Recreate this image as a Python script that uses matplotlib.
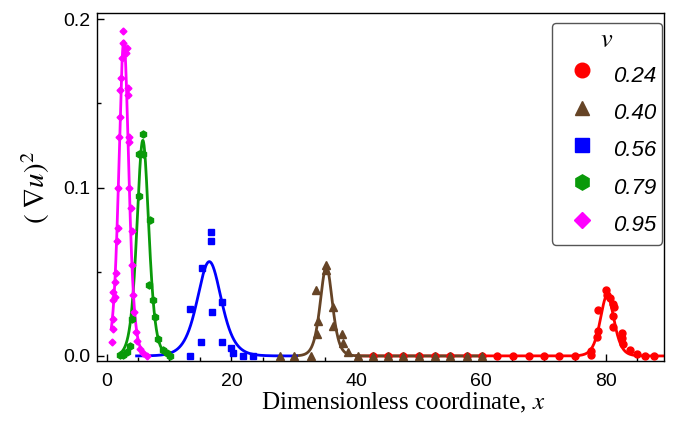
import numpy as np
import matplotlib
matplotlib.use("Agg")
import matplotlib.pyplot as plt
from matplotlib.lines import Line2D

plt.rcParams['font.family'] = ['Liberation Sans', 'DejaVu Sans']
plt.rcParams['mathtext.fontset'] = 'stix'

#####################################
##          DATA                   ##
#####################################
speeds = ['0.24', '0.40', '0.56', '0.79', '0.95']

# v = 0.24
x_024 = [42.6, 45.1, 47.5, 50.1, 52.6, 55.0, 57.7, 60.1, 62.5, 65.1, 67.6, 70.0, 72.5, 75.0,
         77.6, 77.6, 78.6, 78.75, 78.8, 80.0, 80.1, 80.6, 81.2, 81.25, 81.2, 81.2,
         82.6, 82.6, 82.7, 83.8, 85.0, 86.3, 87.7]
y_024 = [0.0, 0.0, 0.0, 0.0, 0.0, 0.0, 0.0, 0.0, 0.0, 0.0, 0.0, 0.0, 0.0, 0.0,
         0.0030, 0.0008, 0.011, 0.015, 0.027, 0.039, 0.036, 0.0345, 0.031, 0.029, 0.024, 0.0174,
         0.0138, 0.0105, 0.007, 0.0035, 0.001, 0.0, 0.0]

# v = 0.40
x_040 = [27.7, 30.0, 32.8, 33.6, 33.85, 33.7, 35.1, 35.15, 36.2, 36.25, 37.7, 37.9, 38.7,
         40.2, 42.6, 45.1, 47.5, 50.1, 52.6, 55.0, 57.7, 60.1]
y_040 = [0.0, 0.0, 0.0, 0.039, 0.021, 0.013, 0.054, 0.051, 0.029, 0.018, 0.013, 0.0075, 0.0025,
         0.0, 0.0, 0.0, 0.0, 0.0, 0.0, 0.0, 0.0, 0.0]

# v = 0.56
x_056 = [13.4, 13.4, 15.1, 15.2, 16.8, 16.8, 16.9, 18.45, 18.55, 20.0, 20.2, 21.8, 23.5]
y_056 = [0.0, 0.028, 0.0085, 0.052, 0.0737, 0.068, 0.026, 0.032, 0.008, 0.0046, 0.0015, 0.0, 0.0]

# v = 0.79
x_079 = [2.2, 2.7, 3.3, 3.8, 4.0, 5.2, 5.25, 5.75, 5.9, 6.9, 6.85, 7.45, 7.75, 8.3, 9.1, 9.6, 10.1]
y_079 = [0.0008, 0.0008, 0.0025, 0.006, 0.022, 0.095, 0.120, 0.120, 0.132, 0.081, 0.042, 0.033,
         0.023, 0.010, 0.0035, 0.002, 0.0]

# v = 0.95
x_095 = [0.80, 0.96, 0.96, 1.06, 1.33, 1.06, 1.33, 1.49, 1.60, 1.86, 1.90, 1.97, 2.13, 2.13,
         2.24, 2.40, 2.56, 2.56, 3.10, 3.20, 3.37, 3.40, 3.63, 3.65, 3.60, 3.85, 4.00, 4.10,
         4.27, 4.43, 4.70, 4.90, 5.34, 5.87, 6.40]
y_095 = [0.008, 0.016, 0.022, 0.033, 0.035, 0.038, 0.044, 0.049, 0.068, 0.076, 0.100, 0.130,
         0.142, 0.158, 0.165, 0.177, 0.186, 0.193, 0.180, 0.183, 0.159, 0.155, 0.130, 0.127,
         0.100, 0.088, 0.074, 0.054, 0.036, 0.026, 0.014, 0.009, 0.004, 0.002, 0.0]

# sech^2 fits: amplitude, centre, width, and x-range of the drawn curve
fit_amp = [0.036, 0.053, 0.056, 0.128, 0.187]
fit_c = [80.2, 35.2, 16.45, 5.8, 2.75]
fit_w = [1.47, 1.3, 2.58, 1.27, 1.06]
fit_lo = [40.0, 30.4, 4.8, 2.3, 0.75]
fit_hi = [90.0, 60.0, 30.4, 10.2, 6.8]

colors = ['#ff0000', '#664426', '#0000ff', '#0a9a0a', '#ff00ff']
markers = ['o', '^', 's', 'h', 'D']
msizes = [5, 5.5, 5, 5, 3.5]
leg_sizes = [10.5, 10.5, 10, 11, 8]

xs_all = [x_024, x_040, x_056, x_079, x_095]
ys_all = [y_024, y_040, y_056, y_079, y_095]

#####################################
##            Plot                 ##
#####################################
fig = plt.figure(figsize=(6.8, 4.29), dpi=100)
ax = fig.add_axes([0.1426, 0.1585, 0.8338, 0.8112])

for i in range(5):
    xf = np.linspace(fit_lo[i], fit_hi[i], 400)
    yf = fit_amp[i] / np.cosh((xf - fit_c[i]) / fit_w[i]) ** 2
    ax.plot(xf, yf, color=colors[i], lw=2.0, zorder=2)
    ax.plot(xs_all[i], ys_all[i], ls='none', marker=markers[i], ms=msizes[i],
            color=colors[i], zorder=3)

ax.set_xlim(-1.55, 89.3)
ax.set_ylim(-0.003, 0.2036)
ax.set_xticks([0, 20, 40, 60, 80])
ax.set_xticks(np.arange(5, 90, 5), minor=True)
ax.set_yticks([0.0, 0.1, 0.2])
ax.set_yticklabels(['0.0', '0.1', '0.2'])
ax.set_yticks([0.05, 0.15], minor=True)
ax.tick_params(which='both', direction='in', labelsize=14, width=1.0, pad=4.5)
ax.tick_params(axis='x', which='both', pad=8.5)
ax.tick_params(which='major', length=5)
ax.tick_params(which='minor', length=3)
for s in ax.spines.values():
    s.set_linewidth(1.0)

ax.set_xlabel('Dimensionless coordinate, $x$', family='Liberation Serif', fontsize=18)
ax.xaxis.set_label_coords(0.541, -0.085)
ax.set_ylabel(r'$(\;\nabla u)^2$', fontsize=21, labelpad=8)

handles = [Line2D([], [], ls='none', marker=markers[i], ms=leg_sizes[i],
                  color=colors[i]) for i in range(5)]
leg = ax.legend(handles, speeds, title='$v$', loc='upper right',
                bbox_to_anchor=(0.9965, 0.972), borderaxespad=0,
                prop={'style': 'italic', 'size': 16},
                title_fontsize=19, labelspacing=0.3, handleheight=1.75,
                handlelength=2.2, handletextpad=0.3,
                borderpad=0.25, fancybox=True, framealpha=1, edgecolor='#555555')
leg.get_frame().set_linewidth(1.0)

fig.savefig('out.png', dpi=100)
